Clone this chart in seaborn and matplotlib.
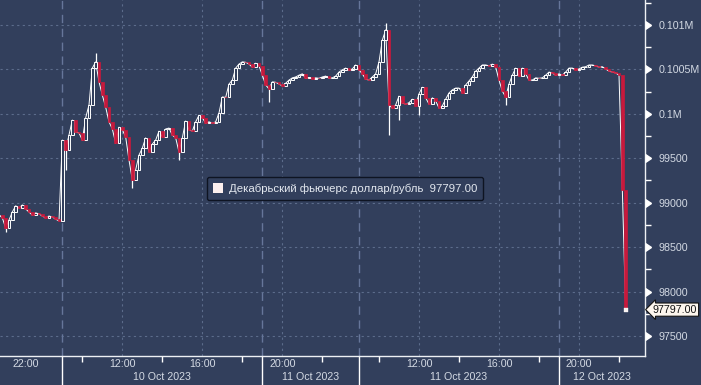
import numpy as np
import pandas as pd
import matplotlib
matplotlib.use("Agg")
import matplotlib.pyplot as plt
import matplotlib.transforms as mtransforms
from matplotlib.patches import Patch
import seaborn as sns

# ---------------- data (10-minute closes) ----------------
series_name = "Декабрьский фьючерс доллар/рубль"
last_price = 97797.00

start_a = "2023-10-09 20:40"   # evening session 9 Oct
close_a = [98860, 98830, 98715, 98805, 98895, 98965, 98940, 98975, 98930, 98895,
           98860, 98885, 98875, 98850, 98830, 98850, 98840, 98815, 98795]

start_b = "2023-10-10 09:00"   # 10 Oct day + evening session
close_b = [99705, 99595, 99760, 99930, 99795, 99785, 99705, 99955, 100100, 100515,
           100585, 100360, 100210, 100075, 99910, 99830, 99670, 99850, 99820, 99740,
           99480, 99255, 99370, 99535, 99615, 99730, 99570, 99660, 99705, 99805,
           99740, 99830, 99840, 99760, 99730, 99570, 99730, 99920, 99820, 99805,
           99910, 99985, 99955, 99895, 99910, 99895, 99910, 100010, 100190, 100185,
           100335, 100380, 100515, 100560, 100585, 100580, 100560, 100525, 100570, 100540,
           100435, 100325, 100280, 100360, 100355, 100335, 100315, 100345, 100380, 100405,
           100415, 100435, 100450, 100400, 100410, 100395, 100405, 100400, 100415, 100425,
           100400, 100405, 100425, 100470, 100495, 100515, 100490, 100505, 100550]

start_c = "2023-10-11 09:00"   # 11 Oct day + evening session
close_c = [100495, 100450, 100390, 100380, 100415, 100450, 100585, 100830, 100945, 100100,
           100065, 100100, 100200, 100120, 100110, 100125, 100165, 100090, 100225, 100300,
           100180, 100110, 100180, 100145, 100065, 100090, 100165, 100235, 100270, 100290,
           100290, 100235, 100325, 100370, 100415, 100480, 100515, 100550, 100550, 100540,
           100560, 100525, 100380, 100255, 100190, 100335, 100435, 100515, 100425, 100515,
           100450, 100380, 100380, 100405, 100400, 100405, 100435, 100470, 100460, 100435,
           100450, 100435, 100470, 100515, 100515, 100495, 100505, 100525, 100530, 100550,
           100550, 100540, 100525, 100530, 100505, 100480, 100470, 100460, 100435, 99145,
           97797]

# notable wick extremes visible in the picture (time, price)
wick_times = ["2023-10-09 21:00", "2023-10-10 09:10", "2023-10-10 10:40", "2023-10-10 12:30",
              "2023-10-10 14:50", "2023-10-10 19:20", "2023-10-11 10:20", "2023-10-11 10:30",
              "2023-10-11 16:20", "2023-10-10 10:00", "2023-10-11 11:00", "2023-10-11 12:00"]
wick_prices = [98670, 99370, 100685, 99165, 99480, 100135, 101020, 99760,
               100100, 99760, 99930, 99990]

sessions = [("2023-10-09 19:00", "2023-10-09 23:50"),
            ("2023-10-10 09:00", "2023-10-10 23:50"),
            ("2023-10-11 09:00", "2023-10-11 23:50")]
view = ("2023-10-09 20:43", "2023-10-11 23:18")

y_ticks = [97500, 98000, 98500, 99000, 99500, 100000, 100500, 101000]
y_tick_labels = ["97500", "98000", "98500", "99000", "99500", "0.1M", "0.1005M", "0.101M"]
y_minor = [97750, 98250, 98750, 99250, 99750, 100250, 100750, 101250]
y_range = (97275, 101281)

time_ticks = ["2023-10-09 22:00", "2023-10-10 12:00", "2023-10-10 16:00", "2023-10-10 20:00",
              "2023-10-11 12:00", "2023-10-11 16:00", "2023-10-11 20:00"]
time_labels = ["22:00", "12:00", "16:00", "20:00", "12:00", "16:00", "20:00"]
grid_time = time_ticks[1:]
minor_time = ["2023-10-10 10:00", "2023-10-10 14:00", "2023-10-10 18:00", "2023-10-10 22:00",
              "2023-10-11 10:00", "2023-10-11 14:00", "2023-10-11 18:00", "2023-10-11 22:00"]
day_breaks = ["2023-10-10 09:00", "2023-10-10 19:00", "2023-10-11 09:00", "2023-10-11 19:00"]
day_labels = ["10 Oct 2023", "11 Oct 2023", "11 Oct 2023", "12 Oct 2023"]

# ---------------- helpers ----------------
def comp(ts):
    """Compressed trading time in minutes (overnight gaps removed)."""
    ts = pd.Timestamp(ts)
    off = 0.0
    for s, e in sessions:
        s, e = pd.Timestamp(s), pd.Timestamp(e)
        if ts <= e:
            return off + (ts - s).total_seconds() / 60.0
        off += (e - s).total_seconds() / 60.0
    return off

frames = []
for st, cl in [(start_a, close_a), (start_b, close_b), (start_c, close_c)]:
    t = pd.date_range(st, periods=len(cl), freq="10min")
    frames.append(pd.DataFrame({"time": t, "close": cl}))
df = pd.concat(frames, ignore_index=True)
df["x"] = [comp(t) for t in df["time"]]
df["open"] = df["close"].shift(1).fillna(df["close"].iloc[0])
df["up"] = df["close"] >= df["open"]

wk = pd.DataFrame({"time": pd.to_datetime(wick_times), "ext": wick_prices})
wk = wk.merge(df[["time", "x", "open", "close"]], on="time", how="left")
wk["base"] = np.where(wk["ext"] > wk[["open", "close"]].max(axis=1),
                      wk[["open", "close"]].max(axis=1), wk[["open", "close"]].min(axis=1))

# ---------------- style ----------------
BG = "#323f5c"
TXT = "#d3d9e3"
GRID = "#5c6c8b"
RED = "#c8193c"
UPC = "#fbf3f1"
sns.set_theme(style="dark", rc={"axes.facecolor": BG, "figure.facecolor": BG})
plt.rcParams["font.family"] = ["Liberation Sans", "DejaVu Sans"]
FS = 7.7

fig = plt.figure(figsize=(7.01, 3.85), dpi=100)
ax = fig.add_axes([0, 29 / 385, 645 / 701, 356 / 385])
ax.set_facecolor(BG)

x0, x1 = comp(view[0]), comp(view[1])
ax.set_xlim(x0, x1)
ax.set_ylim(*y_range)

# grid
for yv in y_ticks:
    ax.axhline(yv, color=GRID, lw=0.8, ls=(0, (2, 3)), zorder=0)
for tv in grid_time:
    ax.axvline(comp(tv), color=GRID, lw=0.8, ls=(0, (2, 3)), zorder=0)
for tv in day_breaks:
    ax.axvline(comp(tv), color="#66769a", lw=1.0, ls=(0, (6, 4)), zorder=0)

# thin close-to-close trace (seaborn) and wicks
sns.lineplot(data=df, x="x", y="close", color="white", lw=0.7, ax=ax,
             estimator=None, sort=False, zorder=2)
ax.vlines(wk["x"], wk["base"], wk["ext"], color="white", lw=0.9, zorder=2)

# candle bodies
w = 8.0
upd = df[df["up"]]
dnd = df[~df["up"]]
ax.bar(upd["x"], upd["close"] - upd["open"], bottom=upd["open"], width=w,
       facecolor=BG, edgecolor="white", linewidth=0.7, zorder=3)
ax.bar(dnd["x"], dnd["close"] - dnd["open"], bottom=dnd["open"], width=w,
       facecolor=RED, edgecolor=RED, linewidth=0.5, zorder=3)
# last traded price marker
sns.scatterplot(x=[df["x"].iloc[-1]], y=[last_price], marker="s", s=10, color=UPC,
                edgecolor="white", ax=ax, zorder=4, legend=False)

# spines
for s in ["top", "left"]:
    ax.spines[s].set_visible(False)
for s in ["right", "bottom"]:
    ax.spines[s].set_visible(True)
    ax.spines[s].set_color("#eef1f5")
    ax.spines[s].set_linewidth(1.0)

# y axis on the right
ax.yaxis.tick_right()
ax.set_yticks(y_ticks)
ax.set_yticklabels(y_tick_labels)
ax.set_yticks(y_minor, minor=True)
ax.tick_params(axis="y", which="major", length=0, pad=9.5, labelsize=FS, labelcolor=TXT,
               right=True, left=False)
ax.tick_params(axis="y", which="minor", length=4, width=1, color="white", direction="out",
               right=True, left=False)
tr_y = mtransforms.blended_transform_factory(ax.transAxes, ax.transData)
ax.plot([1.0] * len(y_ticks), y_ticks, transform=tr_y, marker=9, ms=5.5, color="white",
        ls="none", clip_on=False, zorder=5)

# x axis
ax.set_xticks([comp(t) for t in time_ticks])
ax.set_xticklabels(time_labels)
ax.set_xticks([comp(t) for t in minor_time], minor=True)
ax.tick_params(axis="x", which="major", length=0, pad=2.5, labelsize=FS, labelcolor=TXT)
ax.tick_params(axis="x", which="minor", length=4, width=1, color="white", direction="out",
               bottom=True)
ax.set_xlabel("")
ax.set_ylabel("")
ax.grid(False)

tr_x = mtransforms.blended_transform_factory(ax.transData, ax.transAxes)
for tv in day_breaks:
    xv = comp(tv)
    ax.plot([xv, xv], [0, -0.1], transform=tr_x, color="white", lw=1.0, clip_on=False)
edges = [comp(t) for t in day_breaks] + [x1]
for lab, a, b in zip(day_labels, edges[:-1], edges[1:]):
    ax.text((a + b) / 2, -0.059, lab, transform=tr_x, ha="center", va="center",
            fontsize=FS, color=TXT)

# last price tag
ax.annotate(f"{last_price:.2f}", xy=(1.0, last_price), xycoords=tr_y,
            xytext=(5.5, 0), textcoords="offset points", ha="left", va="center",
            fontsize=FS, color="#111111", annotation_clip=False,
            bbox=dict(boxstyle="larrow,pad=0.15", fc="#fdf6ee", ec="#111111", lw=0.8))

# legend
leg = ax.legend(handles=[Patch(facecolor="#fdf0ee", edgecolor="none")],
                labels=[f"{series_name}  {last_price:.2f}"],
                loc="center", bbox_to_anchor=(0.535, 0.47), frameon=True,
                facecolor=BG, edgecolor="#0e1422", fancybox=True,
                handlelength=0.9, handleheight=0.9, handletextpad=0.5,
                borderpad=0.55, fontsize=8.2, labelcolor="#e4e9f0")
leg.get_frame().set_linewidth(1.0)
leg.get_frame().set_alpha(1.0)

fig.savefig("out.png", dpi=100, facecolor=BG)
